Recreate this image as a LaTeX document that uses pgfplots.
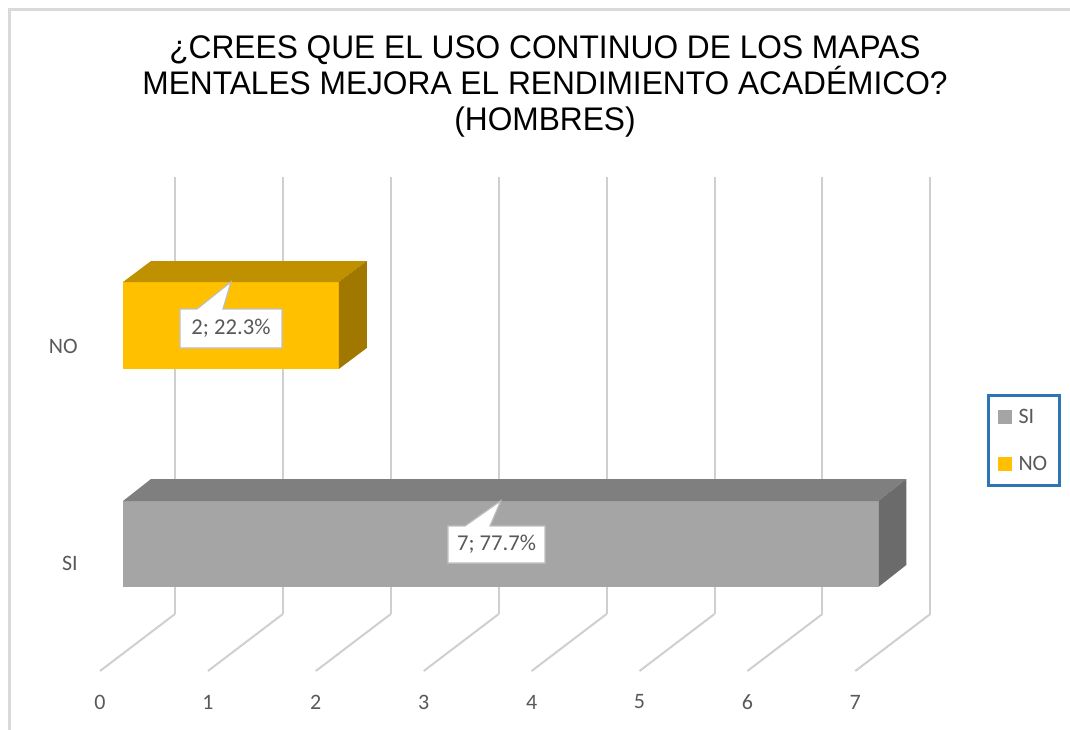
\documentclass[border=0pt]{standalone}
\usepackage{fontspec}
\setmainfont{Carlito}
\newfontfamily\titlefont[FakeStretch=0.97]{Liberation Sans}
\usepackage{pgfplots}
\pgfplotsset{compat=1.18}
\definecolor{goldF}{HTML}{FFC000}
\definecolor{goldT}{HTML}{BF9000}
\definecolor{goldS}{HTML}{A07800}
\definecolor{grayF}{HTML}{A5A5A5}
\definecolor{grayT}{HTML}{7F7F7F}
\definecolor{grayS}{HTML}{6B6B6B}
\definecolor{gridc}{HTML}{CFCFCF}
\definecolor{txt}{HTML}{595959}
\definecolor{lblbord}{HTML}{BFBFBF}
\definecolor{legb}{HTML}{2E75B6}
\definecolor{framec}{HTML}{D9D9D9}
\begin{document}
\begin{tikzpicture}
\begin{axis}[
  x=80.925pt, y=0.75pt,
  xmin=0, xmax=7, ymin=115, ymax=552,
  clip=false,
  axis line style={draw=none},
  xtick={0,...,7}, ytick=\empty,
  major tick length=0pt,
  xmajorgrids,
  grid style={gridc, line width=1.5pt},
  /pgf/number format/assume math mode=true,
  xticklabel style={anchor=center, xshift=-56.25pt, yshift=-66pt, font=\fontsize{16.5}{19}\selectfont, text=txt},
  legend style={at={(axis cs:7.5255,335)}, anchor=north west, draw=legb, line width=2.25pt,
    font=\fontsize{16.5}{19}\selectfont, text=txt, inner xsep=7pt, inner ysep=8pt, row sep=19pt,
    nodes={inner sep=2pt},
    /tikz/every odd column/.append style={column sep=3pt}},
  legend cell align=left,
  legend image code/.code={\fill[#1] (0pt,-5.25pt) rectangle (10.5pt,5.25pt);},
]
% floor lines
\draw[gridc, line width=1.5pt] (axis cs:0,115) -- (axis cs:-0.695,58);
\draw[gridc, line width=1.5pt] (axis cs:1,115) -- (axis cs:0.305,58);
\draw[gridc, line width=1.5pt] (axis cs:2,115) -- (axis cs:1.305,58);
\draw[gridc, line width=1.5pt] (axis cs:3,115) -- (axis cs:2.305,58);
\draw[gridc, line width=1.5pt] (axis cs:4,115) -- (axis cs:3.305,58);
\draw[gridc, line width=1.5pt] (axis cs:5,115) -- (axis cs:4.305,58);
\draw[gridc, line width=1.5pt] (axis cs:6,115) -- (axis cs:5.305,58);
\draw[gridc, line width=1.5pt] (axis cs:7,115) -- (axis cs:6.305,58);

% SI bar (value 7)
\addplot[fill=grayF, draw=none] coordinates {(-0.4819,142) (6.5181,142) (6.5181,228) (-0.4819,228)} -- cycle;
\addlegendentry{SI}
\addplot[fill=grayT, draw=none, forget plot] coordinates {(-0.4819,228) (6.5181,228) (6.7776,250) (-0.2224,250)} -- cycle;
\addplot[fill=grayS, draw=none, forget plot] coordinates {(6.5181,142) (6.7776,164) (6.7776,250) (6.5181,228)} -- cycle;

% NO bar (value 2)
\addplot[fill=goldF, draw=none] coordinates {(-0.4819,360) (1.5181,360) (1.5181,447) (-0.4819,447)} -- cycle;
\addlegendentry{NO}
\addplot[fill=goldT, draw=none, forget plot] coordinates {(-0.4819,447) (1.5181,447) (1.7776,468) (-0.2224,468)} -- cycle;
\addplot[fill=goldS, draw=none, forget plot] coordinates {(1.5181,360) (1.7776,381) (1.7776,468) (1.5181,447)} -- cycle;

% data label callouts
\filldraw[fill=white, draw=lblbord, line width=0.9pt] (axis cs:0.0463,381) -- (axis cs:0.9917,381) -- (axis cs:0.9917,420) -- (axis cs:0.4449,420) -- (axis cs:0.5181,447) -- (axis cs:0.2039,420) -- (axis cs:0.0463,420) -- cycle;
\node[text=txt, font=\fontsize{17}{19}\selectfont, inner sep=0pt] at (axis cs:0.519,400.5) {2; 22.3\%};
\filldraw[fill=white, draw=lblbord, line width=0.9pt] (axis cs:2.530,166) -- (axis cs:3.429,166) -- (axis cs:3.429,203) -- (axis cs:2.919,203) -- (axis cs:3.0181,228) -- (axis cs:2.688,203) -- (axis cs:2.530,203) -- cycle;
\node[text=txt, font=\fontsize{17}{19}\selectfont, inner sep=0pt] at (axis cs:2.98,184.5) {7; 77.7\%};

% category labels
\node[anchor=east, inner sep=0pt, text=txt, font=\fontsize{16.5}{19}\selectfont] at (axis cs:-0.899,383) {NO};
\node[anchor=east, inner sep=0pt, text=txt, font=\fontsize{16.5}{19}\selectfont] at (axis cs:-0.899,166) {SI};

% title
\node[align=center, font=\titlefont\fontsize{24.5}{27}\selectfont, text=black] at (axis cs:3.429,643)
  {¿CREES QUE EL USO CONTINUO DE LOS MAPAS\\MENTALES MEJORA EL RENDIMIENTO ACADÉMICO?\\(HOMBRES)};

% frame
\draw[framec, line width=2.25pt] (axis cs:-1.5292,-30) -- (axis cs:-1.5292,719) -- (axis cs:8.6,719);

\coordinate (bbsw) at (axis cs:-1.6219,0);
\coordinate (bbne) at (axis cs:8.2947,729);
\end{axis}
\pgfresetboundingbox
\path[use as bounding box] (bbsw) rectangle (bbne);
\end{tikzpicture}
\end{document}
